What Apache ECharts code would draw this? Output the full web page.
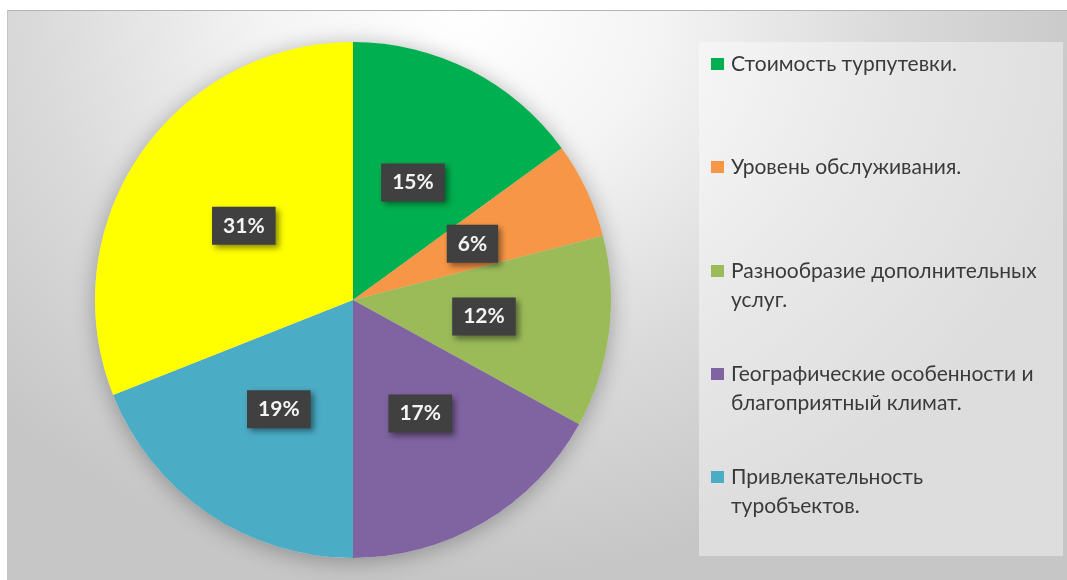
<!DOCTYPE html>
<html>
<head>
<meta charset="utf-8">
<script src="https://cdn.jsdelivr.net/npm/echarts@6/dist/echarts.min.js"></script>
<style>
    html, body { margin: 0; padding: 0; background: #fff; }
    #bg {
        position: absolute; left: 7px; top: 10px; right: 0; bottom: 0;
        background: radial-gradient(ellipse 62% 100% at 43% 0%, #ffffff 0%, #f4f4f4 30%, #dadada 65%, #c6c6c6 100%);
        border-top: 1px solid #b4b4b4;
        border-left: 1px solid #c4c4c4;
    }
    #chart { position: absolute; left: 0; top: 0; width: 1067px; height: 580px; }
</style>
</head>
<body>
<div id="bg"></div>
<div id="chart"></div>
<script>
// данные диаграммы
const categories = [
    'Стоимость турпутевки.',
    'Уровень обслуживания.',
    'Разнообразие дополнительных услуг.',
    'Географические особенности и благоприятный климат.',
    'Привлекательность туробъектов.',
    'Прочее'
];
const values = [15, 6, 12, 17, 19, 31];
const colors = ['#00B050', '#F79646', '#9BBB59', '#8064A2', '#4BACC6', '#FFFF00'];

// подписи легенды (как в оригинале, с переносами); у жёлтого сектора подписи нет
const legendLines = [
    ['Стоимость турпутевки.'],
    ['Уровень обслуживания.'],
    ['Разнообразие дополнительных', 'услуг.'],
    ['Географические особенности и', 'благоприятный климат.'],
    ['Привлекательность', 'туробъектов.']
];

const FONT = 'Lato, "Open Sans", sans-serif';
const LINE_H = 29;
// центры значков легенды по вертикали
const legendIconY = [64, 167, 271, 374, 477];

const myChart = echarts.init(document.getElementById('chart'));

// текст центрируется по значку, поэтому для двух строк добавляем пустую строку сверху,
// чтобы первая строка оказалась на уровне значка
const legends = legendLines.map((lines, i) => {
    const multi = lines.length > 1;
    return {
        data: [categories[i]],
        orient: 'vertical',
        left: 711,
        top: legendIconY[i] - (multi ? LINE_H * 1.5 : LINE_H / 2),
        padding: 0,
        icon: 'rect',
        itemWidth: 13,
        itemHeight: 12,
        selectedMode: false,
        formatter: () => (multi ? ' \n' : '') + lines.join('\n'),
        textStyle: {
            fontFamily: FONT,
            fontSize: 21,
            lineHeight: LINE_H,
            color: '#3a3a3a',
            padding: [0, 0, 0, 2]
        }
    };
});

const total = values.reduce((a, b) => a + b, 0);

const option = {
    animation: false,
    graphic: [
        {
            type: 'rect',
            left: 699,
            top: 42,
            shape: { width: 364, height: 514 },
            style: { fill: 'rgba(255,255,255,0.4)' },
            z: -1
        }
    ],
    legend: legends,
    series: [
        {
            // тень под кругом
            type: 'pie',
            silent: true,
            center: [353, 300],
            radius: 258,
            label: { show: false },
            labelLine: { show: false },
            data: [{ value: total, name: '' }],
            itemStyle: {
                color: '#d8d8d8',
                shadowBlur: 22,
                shadowColor: 'rgba(0,0,0,0.3)',
                shadowOffsetY: 3
            },
            z: 1
        },
        {
            type: 'pie',
            center: [353, 300],
            radius: 258,
            startAngle: 90,
            clockwise: true,
            z: 2,
            data: categories.map((name, i) => ({
                name: name,
                value: values[i],
                itemStyle: { color: colors[i] }
            })),
            label: {
                show: true,
                position: 'inside',
                formatter: '{c}%',
                fontFamily: FONT,
                fontSize: 21,
                fontWeight: 'bold',
                color: '#f4f4f4',
                backgroundColor: '#404040',
                padding: [9, 11, 8, 11],
                shadowColor: 'rgba(0,0,0,0.45)',
                shadowBlur: 6,
                shadowOffsetX: 3,
                shadowOffsetY: 3
            },
            labelLine: { show: false },
            emphasis: { disabled: true }
        }
    ]
};

myChart.setOption(option);
</script>
</body>
</html>
